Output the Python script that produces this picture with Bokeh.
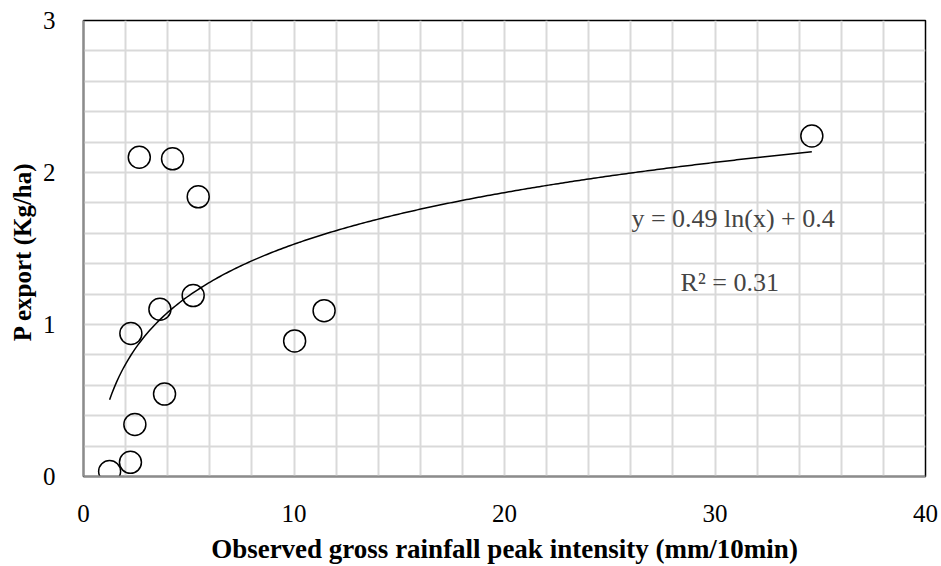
import numpy as np
from bokeh.plotting import figure
from bokeh.models import Range1d, FixedTicker, Label
from bokeh.embed import file_html
from bokeh.resources import INLINE

intensity = [1.24, 2.23, 2.44, 3.85, 2.25, 3.63, 5.21, 2.65, 4.23, 5.45, 10.03, 11.43, 34.6]
p_export = [0.033, 0.093, 0.342, 0.542, 0.941, 1.10, 1.19, 2.10, 2.09, 1.84, 0.892, 1.091, 2.24]

# Logarithmic trendline coefficients (from the chart's equation)
trend_a = 0.49
trend_b = 0.4

x_ticks = [0, 10, 20, 30, 40]
y_ticks = [0, 1, 2, 3]
x_grid = list(range(0, 41, 2))
y_grid = [round(i * 0.2, 1) for i in range(16)]

FONT = "Liberation Serif"

p = figure(width=941, height=566, output_backend="svg", toolbar_location=None,
           x_range=Range1d(0, 40), y_range=Range1d(0, 3),
           min_border_left=83, min_border_right=16, min_border_top=20, min_border_bottom=87)

p.outline_line_color = "black"
p.outline_line_width = 1.5

p.xgrid.ticker = FixedTicker(ticks=x_grid)
p.ygrid.ticker = FixedTicker(ticks=y_grid)
for g in (p.xgrid, p.ygrid):
    g.grid_line_color = "#d9d9d9"
    g.grid_line_width = 2

p.xaxis.ticker = FixedTicker(ticks=x_ticks)
p.yaxis.ticker = FixedTicker(ticks=y_ticks)
for ax in (p.xaxis, p.yaxis):
    ax.axis_line_color = "#8c8c8c"
    ax.axis_line_width = 2
    ax.major_tick_line_color = None
    ax.minor_tick_line_color = None
    ax.major_label_text_font = FONT
    ax.major_label_text_font_size = "25px"
    ax.major_label_text_color = "black"
    ax.axis_label_text_font = FONT
    ax.axis_label_text_font_style = "bold"
    ax.axis_label_text_color = "black"

p.xaxis.axis_label_text_font_size = "27px"
p.yaxis.axis_label_text_font_size = "25px"
p.xaxis.axis_label = "Observed gross rainfall peak intensity (mm/10min)"
p.yaxis.axis_label = "P  export (Kg/ha)"
p.xaxis.major_label_standoff = 22
p.yaxis.major_label_standoff = 22
p.xaxis.axis_label_standoff = 9
p.yaxis.axis_label_standoff = 4

# trendline
xs = np.linspace(min(intensity), max(intensity), 300)
ys = trend_a * np.log(xs) + trend_b
p.line(xs, ys, line_color="black", line_width=1.5)

p.scatter(intensity, p_export, size=22, marker="circle", fill_color=None,
          line_color="black", line_width=1.5)

p.add_layout(Label(x=30.86, y=1.70, text="y = 0.49 ln(x) + 0.4", text_font=FONT,
                   text_font_size="26px", text_align="center", text_baseline="middle"))
p.add_layout(Label(x=30.7, y=1.275, text="R² = 0.31", text_font=FONT,
                   text_font_size="26px", text_align="center", text_baseline="middle"))

open("out.html", "w").write(file_html(p, INLINE))
